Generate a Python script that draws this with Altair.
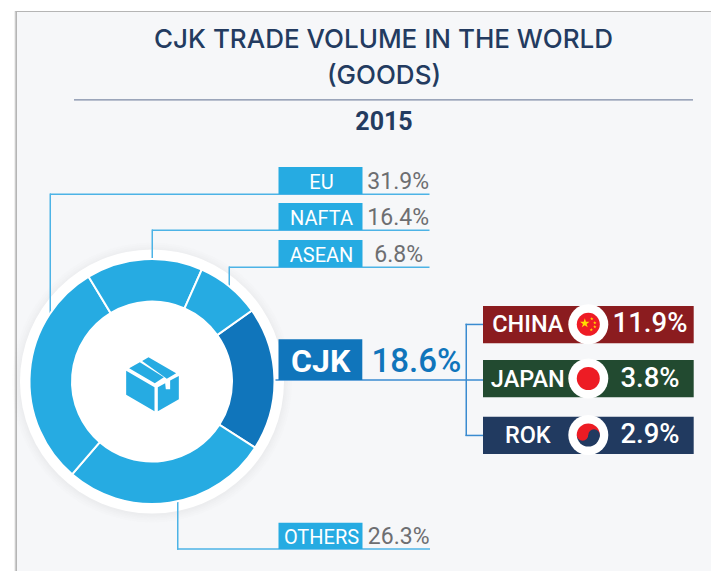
import math
import altair as alt
import pandas as pd

# ---- values ----
title_lines = ["CJK TRADE VOLUME IN THE WORLD", "(GOODS)"]
year = "2015"
sectors = ["CJK", "OTHERS", "EU", "NAFTA", "ASEAN"]
sector_shares_as_drawn = [18.9, 27.2, 30.0, 15.3, 8.5]
callout_names = ["EU", "NAFTA", "ASEAN", "OTHERS"]
callout_values = ["31.9%", "16.4%", "6.8%", "26.3%"]
cjk_name, cjk_value = "CJK", "18.6%"
country_names = ["CHINA", "JAPAN", "ROK"]
country_values = ["11.9%", "3.8%", "2.9%"]

# ---- style ----
PANEL = "#f6f7f9"
LIGHT = "#26abe2"
DARK = "#1075bb"
LINE = "#4cb3e6"
LINE2 = "#3a8bd0"
GREY = "#6d6e71"
NAVY = "#233b60"
COUNTRY = ["#8b1c1f", "#224a30", "#213a60"]
FONT = "Roboto"
W, H = 703, 563
ONE = alt.Data(values=[{"k": 0}])


def X(v):
    return v - 8


def Y(v):
    return v - 8


def box(x1, y1, x2, y2, color, opacity=1):
    return alt.Chart(ONE).mark_rect(color=color, opacity=opacity).encode(
        x=alt.value(X(x1)), x2=alt.value(X(x2)), y=alt.value(Y(y1)), y2=alt.value(Y(y2)))


def text(s, x, y, size, color, weight=400, align="center", font=FONT):
    return alt.Chart(ONE).mark_text(
        text=s, fontSize=size, color=color, fontWeight=weight, align=align,
        baseline="alphabetic", font=font).encode(x=alt.value(X(x)), y=alt.value(Y(y)))


def disk(cx, cy, r, color, opacity=1, t1=0.0, t2=2 * math.pi):
    return alt.Chart(ONE).mark_arc(
        color=color, opacity=opacity, radius=r, radius2=0, theta=t1, theta2=t2
    ).encode(x=alt.value(X(cx)), y=alt.value(Y(cy)))


STAR = "M0,-1L0.225,-0.309L0.951,-0.309L0.363,0.118L0.588,0.809L0,0.382L-0.588,0.809L-0.363,0.118L-0.951,-0.309L-0.225,-0.309Z"


def glyph(path, cx, cy, span, color):
    return alt.Chart(ONE).mark_point(
        shape=path, size=span * span, filled=True, color=color, opacity=1, strokeWidth=0
    ).encode(x=alt.value(X(cx)), y=alt.value(Y(cy)))


layers = [box(8, 8, 711, 571, "#ffffff")]
# panel with thin border and soft left edge
layers += [box(14.5, 11, 16.5, 571, "#e2e2e2"), box(15.5, 11, 17, 571, "#b5b5b5"),
           box(15.5, 11, 711, 12, "#b5b5b5"), box(17, 12, 711, 571, PANEL)]

# titles
layers += [text(title_lines[0], 383.5, 48.3, 26, NAVY, 500, font="Inter"),
           text(title_lines[1], 384, 84, 26, NAVY, 500, font="Inter"),
           box(74, 99.2, 693, 100.6, "#7d8aa5"),
           text(year, 384, 130, 25, NAVY, 700)]

# ring with soft shadow
CX, CY = 152, 381.5
layers += [disk(CX, CY + 1, r, "#8a8a8a", 0.018) for r in (140, 138, 136, 134.5, 133)]
layers += [disk(CX, CY, 132, "#ffffff")]

# callout lines (they cross the white rim and stop at the coloured ring)
lines = [
    (50, 193.5, 429.5, 195, LINE), (49.5, 193.5, 51, 315, LINE),
    (152, 229.5, 429.5, 231, LINE), (151.5, 229.5, 153, 262, LINE),
    (229, 266.5, 429.5, 268, LINE), (228.5, 266.5, 230, 289, LINE),
    (177, 548.3, 430, 549.8, LINE), (177, 500, 178.5, 549.8, LINE),
    (270, 379.3, 483, 380.8, LINE2), (465.5, 323.7, 467, 436, LINE2),
    (465.5, 323.7, 483, 325.2, LINE2), (465.5, 434.7, 483, 436.2, LINE2),
]
layers += [box(a, b, c, d, col) for a, b, c, d, col in lines]

ring = pd.DataFrame({"sector": sectors, "share": sector_shares_as_drawn,
                     "idx": range(len(sectors))})
start = math.radians(54.6)
layers.append(
    alt.Chart(ring).mark_arc(radius=122.5, radius2=80, stroke="#ffffff", strokeWidth=2).encode(
        theta=alt.Theta("share:Q", stack=True, scale=alt.Scale(range=[start, start + 2 * math.pi])),
        order=alt.Order("idx:Q"),
        color=alt.Color("sector:N", legend=None,
                        scale=alt.Scale(domain=sectors, range=[DARK, LIGHT, LIGHT, LIGHT, LIGHT])),
        x=alt.value(X(CX)), y=alt.value(Y(CY)))
)


# box icon, traced in a 198-unit crop
def poly(points):
    return "M" + "L".join(f"{(px - 97) / 80:.3f},{(py - 103) / 80:.3f}" for px, py in points) + "Z"


icon = " ".join([
    poly([(18, 62), (103, 112), (103, 184), (18, 134)]),
    poly([(113, 112), (135, 100), (137, 118), (150, 118), (150, 92), (176, 78), (176, 148), (113, 184)]),
    poly([(27, 55), (59, 37), (131, 82), (104, 100)]),
    poly([(66, 33), (85, 22), (168, 70), (140, 86)]),
])
layers.append(glyph(icon, 152.5, 384.3, 53.3, LIGHT))

# region tags
tag_boxes = [(167, 194), (203, 230), (240, 267), (522.7, 549)]
tag_base = [189.3, 224.6, 262.3, 544.3]
tag_right = [429, 429, 423, 429.5]
for i, name in enumerate(callout_names):
    layers.append(box(278.5, tag_boxes[i][0], 362.5, tag_boxes[i][1], LIGHT))
    layers.append(text(name, 321.5, tag_base[i], 20, "#ffffff"))
    layers.append(text(callout_values[i], tag_right[i], tag_base[i], 23, GREY, 400, "right"))

# CJK tag
layers += [box(278.5, 339.3, 362.3, 380, DARK),
           text(cjk_name, 320.7, 372.3, 32, "#ffffff", 700),
           text(cjk_value, 371.5, 372.3, 33, DARK, 500, "left")]

# country tags
c_top = [306, 360, 416.7]
c_bot = [343.3, 397.3, 454]
c_base = [332.3, 387.3, 443.3]
c_flag = [324.3, 378.5, 435]
for i, name in enumerate(country_names):
    layers.append(box(483, c_top[i], 693.7, c_bot[i], COUNTRY[i]))
    layers.append(text(name, 527.8, c_base[i], 23.5, "#ffffff", 500))
    layers.append(text(country_values[i], 650, c_base[i], 27.5, "#ffffff", 500))
    layers.append(disk(588.3, c_flag[i], 20, "#ffffff"))

FX = 588.3
# China
layers.append(disk(FX, c_flag[0], 11.5, "#ee1c25"))
layers.append(glyph(STAR, FX - 3.5, c_flag[0] - 1, 10, "#ffde00"))
for dx, dy in [(3.5, -5.5), (6.5, -1.5), (6.5, 2.5), (3, 5.5)]:
    layers.append(glyph(STAR, FX + dx, c_flag[0] + dy, 3.6, "#ffde00"))
# Japan
layers.append(disk(FX, c_flag[1], 11.5, "#ed1c24"))
# ROK
ky = c_flag[2]
layers += [disk(FX, ky, 11.5, "#ed1c24", 1, 1.5 * math.pi, 2.5 * math.pi),
           disk(FX, ky, 11.5, "#213a60", 1, 0.5 * math.pi, 1.5 * math.pi),
           disk(FX - 5.75, ky, 5.75, "#ed1c24"),
           disk(FX + 5.75, ky, 5.75, "#213a60")]

chart = alt.layer(*layers).properties(
    width=W, height=H, padding=0, autosize=alt.AutoSizeParams(type="none"), background="#ffffff"
).configure_view(strokeWidth=0)

chart.save("out.html", embed_options={"renderer": "svg", "actions": False})
